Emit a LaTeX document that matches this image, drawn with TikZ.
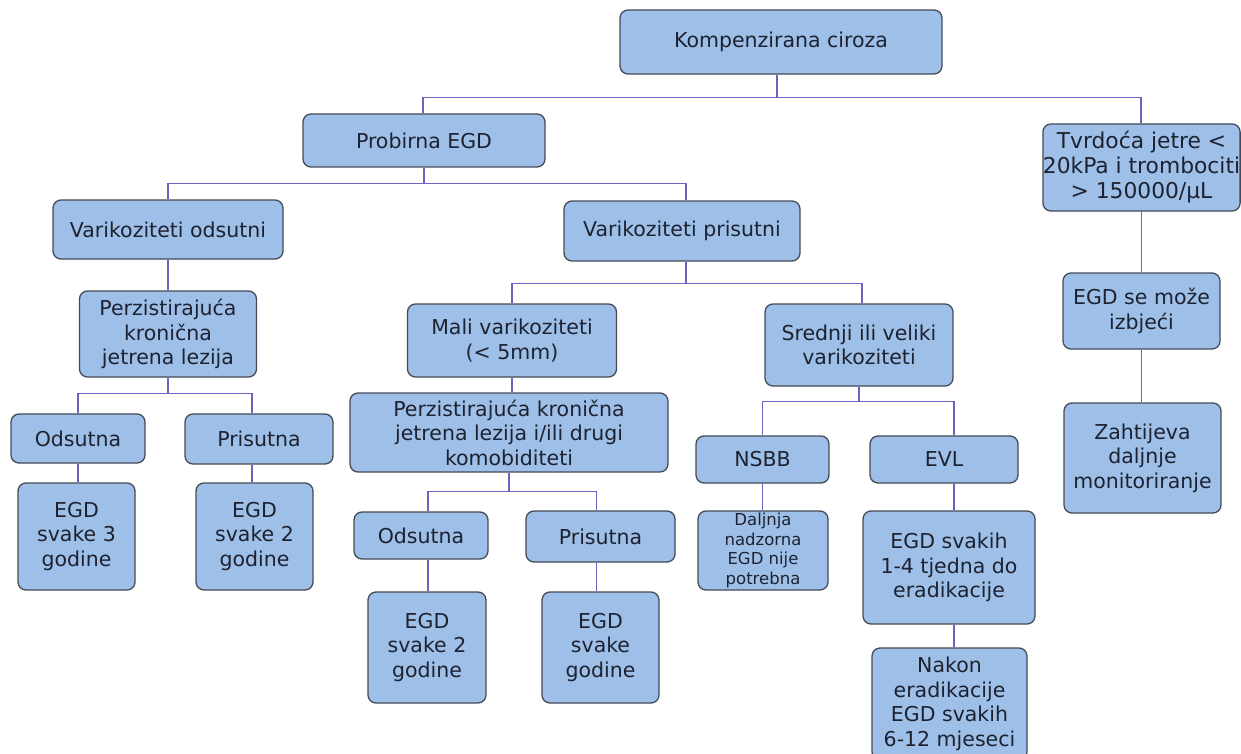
\documentclass[tikz,border=0pt]{standalone}
\usepackage{fontspec}
\setmainfont{DejaVu Sans}
\definecolor{boxfill}{HTML}{9EC0E8}
\definecolor{boxdraw}{HTML}{454A58}
\definecolor{conncol}{HTML}{6A62C0}
\definecolor{txt}{HTML}{1E2230}
\tikzset{
  box/.style={draw=boxdraw, fill=boxfill, line width=1.3pt, rounded corners=8pt,
    inner sep=0pt, align=center, text=txt, font=\fontsize{20.5}{24.5}\selectfont},
  smalltext/.style={font=\fontsize{16.5}{19.5}\selectfont},
  bigtext/.style={font=\fontsize{21.8}{25}\selectfont},
  conn/.style={draw=conncol, line width=1.3pt},
  wh/.style 2 args={minimum width=#1pt, minimum height=#2pt}
}
\begin{document}
\begin{tikzpicture}[x=1pt,y=-1pt]
\fill[white] (0,0) rectangle (1241,754);
\useasboundingbox (0,0) rectangle (1241,754);
\begin{scope}
\clip (0,0) rectangle (1241,754);
% level 0/1
\node[box, wh={322}{64}] (root) at (781,42) {Kompenzirana ciroza};
\node[box, wh={242}{53}] (prob) at (424,140.5) {Probirna EGD};
\node[box, bigtext, wh={196}{87}] (tvrd) at (1141.5,167.5) {Tvrdoća jetre <\\20kPa i trombociti\\> 150000/μL};
% level 2
\node[box, wh={230}{59}] (vods) at (168,229.5) {Varikoziteti odsutni};
\node[box, wh={236}{60}] (vpri) at (682,231) {Varikoziteti prisutni};
% level 3
\node[box, wh={177}{86}] (lezl) at (168,334) {Perzistirajuća\\kronična\\jetrena lezija};
\node[box, wh={209}{73}] (mali) at (512,340.5) {Mali varikoziteti\\(< 5mm)};
\node[box, wh={188}{82}] (sred) at (859,345) {Srednji ili veliki\\varikoziteti};
\node[box, wh={157}{76}] (moze) at (1141.5,311) {EGD se može\\izbjeći};
% level 4
\node[box, wh={134}{49}] (odsl) at (78,438.5) {Odsutna};
\node[box, wh={148}{50}] (pril) at (259,439) {Prisutna};
\node[box, wh={318}{79}] (lezm) at (509,432.5) {Perzistirajuća kronična\\jetrena lezija i/ili drugi\\komobiditeti};
\node[box, wh={133}{47}] (nsbb) at (762.5,459.5) {NSBB};
\node[box, wh={148}{47}] (evl) at (944,459.5) {EVL};
\node[box, wh={157}{110}] (zaht) at (1142.5,458) {Zahtijeva\\daljnje\\monitoriranje};
% level 5
\node[box, wh={117}{107}] (egd3) at (76.5,536.5) {EGD\\svake 3\\godine};
\node[box, wh={117}{107}] (egd2l) at (254.5,536.5) {EGD\\svake 2\\godine};
\node[box, smalltext, wh={130}{79}] (dalj) at (763,550.5) {Daljnja\\nadzorna\\EGD nije\\potrebna};
\node[box, wh={172}{113}] (egd14) at (949,567.5) {EGD svakih\\1-4 tjedna do\\eradikacije};
\node[box, wh={134}{47}] (odsm) at (421,535.5) {Odsutna};
\node[box, wh={149}{51}] (prim) at (600.5,536.5) {Prisutna};
% level 6
\node[box, wh={118}{111}] (egd2m) at (427,647.5) {EGD\\svake 2\\godine};
\node[box, wh={117}{111}] (egdg) at (600.5,647.5) {EGD\\svake\\godine};
\node[box, wh={155}{112}] (nakon) at (949.5,704) {Nakon\\eradikacije\\EGD svakih\\6-12 mjeseci};
\end{scope}
% connectors
\draw[conn] ([xshift=-4pt]root.south) -- ++(0,23) coordinate (b1);
\draw[conn] (b1) -| ([xshift=-1pt]prob.north);
\draw[conn] (b1) -| ([xshift=-0.5pt]tvrd.north);
\draw[conn] (prob.south) -- ++(0,16) coordinate (b2);
\draw[conn] (b2) -| (vods.north);
\draw[conn] (b2) -| ([xshift=4pt]vpri.north);
\draw[conn] (vods.south) -- (lezl.north);
\draw[conn] ([xshift=4pt]vpri.south) -- ++(0,22) coordinate (b3);
\draw[conn] (b3) -| (mali.north);
\draw[conn] (b3) -| ([xshift=3pt]sred.north);
\draw[conn] (lezl.south) -- ++(0,16) coordinate (b4);
\draw[conn] (b4) -| (odsl.north);
\draw[conn] (b4) -| ([xshift=-7pt]pril.north);
\draw[conn] (odsl.south) -- (odsl.south |- egd3.north);
\draw[conn] ([xshift=-7pt]pril.south) -- ([xshift=-7pt]pril.south |- egd2l.north);
\draw[conn] (mali.south) -- (mali.south |- lezm.north);
\draw[conn] (sred.south) -- ++(0,15) coordinate (b5);
\draw[conn] (b5) -| (nsbb.north);
\draw[conn] (b5) -| ([xshift=10pt]evl.north);
\draw[conn] (nsbb.south) -- (nsbb.south |- dalj.north);
\draw[conn] ([xshift=10pt]evl.south) -- ([xshift=10pt]evl.south |- egd14.north);
\draw[conn] ([xshift=5pt]egd14.south) -- ([xshift=5pt]egd14.south |- nakon.north);
\draw[conn] (lezm.south) -- ++(0,19) coordinate (b6);
\draw[conn] (b6) -| ([xshift=7pt]odsm.north);
\draw[conn] (b6) -| ([xshift=-4pt]prim.north);
\draw[conn] ([xshift=7pt]odsm.south) -- ([xshift=7pt]odsm.south |- egd2m.north);
\draw[conn] ([xshift=-4pt]prim.south) -- ([xshift=-4pt]prim.south |- egdg.north);
\draw[conn] (tvrd.south) -- (tvrd.south |- moze.north);
\draw[conn] (moze.south) -- (moze.south |- zaht.north);
\end{tikzpicture}
\end{document}
